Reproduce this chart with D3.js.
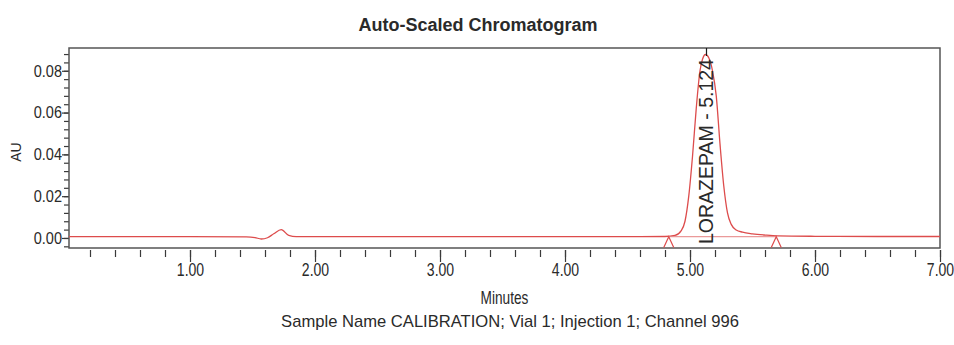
<!DOCTYPE html>
<html>
<head>
<meta charset="utf-8">
<script src="https://cdn.jsdelivr.net/npm/d3@7"></script>
<style>
  body { margin: 0; background: #fff; }
  svg text { font-family: 'Liberation Sans', Arial, sans-serif; fill: #2a2a2a; }
</style>
</head>
<body>
<div id="chart"></div>
<script>
// chromatogram trace (minutes, AU)
var times = [0.032, 0.5, 1.0, 1.45, 1.52, 1.57, 1.62, 1.67, 1.73, 1.79, 1.85, 2.2, 3.0, 4.0, 4.6,
  4.80, 4.88, 4.93, 4.96, 4.99, 5.02, 5.05, 5.08, 5.10, 5.124, 5.15, 5.18, 5.21, 5.24, 5.27,
  5.30, 5.33, 5.37, 5.42, 5.50, 5.60, 5.70, 6.00, 6.50, 7.00];
var absorbance = [0.0006, 0.0006, 0.0006, 0.0005, 0.0002, -0.0005, 0.0001, 0.0020, 0.0040, 0.0012, 0.0006, 0.0006, 0.0006, 0.0006, 0.0006,
  0.0007, 0.0012, 0.0035, 0.0080, 0.0200, 0.0390, 0.0620, 0.0800, 0.0855, 0.0878, 0.0862, 0.0800, 0.0680, 0.0450, 0.0250,
  0.0120, 0.0065, 0.0038, 0.0028, 0.0020, 0.0014, 0.0010, 0.0008, 0.0007, 0.0007];

var peakNames = ['LORAZEPAM'];
var peakTimes = [5.124];
var markerTimes = [4.83, 5.69];   // integration start / end marks

var xMajorTicks = [1, 2, 3, 4, 5, 6, 7];
var yMajorTicks = [0, 0.02, 0.04, 0.06, 0.08];

var title = 'Auto-Scaled Chromatogram';
var xTitle = 'Minutes';
var yTitle = 'AU';
var footer = 'Sample Name CALIBRATION; Vial 1; Injection 1; Channel 996';

var width = 954, height = 345;
var plotLeft = 69, plotRight = 940, plotTop = 48, plotBottom = 248;

var svg = d3.select('#chart').append('svg')
  .attr('width', width)
  .attr('height', height);

var x = d3.scaleLinear().domain([0.032, 7.0]).range([plotLeft, plotRight]);
var y = d3.scaleLinear().domain([-0.0048, 0.0909]).range([plotBottom, plotTop]);

var xMinor = d3.range(2, 71, 2).map(d => d / 10);
var yMinor = d3.range(-1, 23).map(d => d * 0.004);

// x axis: minor then major ticks, hanging a little below the frame
svg.append('g')
  .attr('class', 'x-minor')
  .attr('transform', 'translate(0,' + (plotBottom + 2) + ')')
  .call(d3.axisBottom(x).tickValues(xMinor).tickSize(7).tickFormat(''));
svg.append('g')
  .attr('class', 'x-major')
  .attr('transform', 'translate(0,' + (plotBottom + 2) + ')')
  .call(d3.axisBottom(x).tickValues(xMajorTicks).tickSize(12).tickPadding(1).tickFormat(d3.format('.2f')));

svg.append('g')
  .attr('class', 'y-minor')
  .attr('transform', 'translate(' + plotLeft + ',0)')
  .call(d3.axisLeft(y).tickValues(yMinor).tickSize(5).tickFormat(''));
svg.append('g')
  .attr('class', 'y-major')
  .attr('transform', 'translate(' + plotLeft + ',0)')
  .call(d3.axisLeft(y).tickValues(yMajorTicks).tickSize(7).tickPadding(0).tickFormat(d3.format('.2f')));

svg.selectAll('.domain').remove();
svg.selectAll('.tick line').attr('stroke', '#3a3a3a').attr('stroke-width', 1.2);

// the instrument font is a tall, narrow one: squeeze the labels sideways
var xs = 0.78, ys = 0.88;
svg.selectAll('.x-major text')
  .attr('font-family', "'Liberation Sans', Arial, sans-serif")
  .attr('font-size', '18px')
  .attr('fill', '#2a2a2a')
  .attr('transform', 'scale(' + xs + ',1)');
svg.selectAll('.y-major text')
  .attr('font-family', "'Liberation Sans', Arial, sans-serif")
  .attr('font-size', '16.5px')
  .attr('fill', '#2a2a2a')
  .attr('x', -7 / ys)
  .attr('transform', 'scale(' + ys + ',1)');

// frame
svg.append('rect')
  .attr('x', plotLeft).attr('y', plotTop)
  .attr('width', plotRight - plotLeft).attr('height', plotBottom - plotTop)
  .attr('fill', 'none')
  .attr('stroke', '#555')
  .attr('stroke-width', 1.5);

// trace
var trace = times.map((t, i) => ({ t: t, v: absorbance[i] }));
var line = d3.line()
  .x(d => x(d.t))
  .y(d => y(d.v))
  .curve(d3.curveMonotoneX);

svg.append('path')
  .datum(trace)
  .attr('d', line)
  .attr('fill', 'none')
  .attr('stroke', '#dd4c4c')
  .attr('stroke-width', 1.3);

// integration baseline
svg.append('line')
  .attr('x1', x(markerTimes[0])).attr('x2', x(markerTimes[1]))
  .attr('y1', y(0.0006)).attr('y2', y(0.0006))
  .attr('stroke', '#e58080')
  .attr('stroke-width', 1);

svg.selectAll('.marker')
  .data(markerTimes)
  .enter()
  .append('path')
  .attr('class', 'marker')
  .attr('d', d => 'M' + (x(d) - 5) + ',' + (plotBottom - 0.5) + 'L' + x(d) + ',' + y(0.0006) + 'L' + (x(d) + 5) + ',' + (plotBottom - 0.5))
  .attr('fill', 'none')
  .attr('stroke', '#dd4c4c')
  .attr('stroke-width', 1.2);

// peak label
peakTimes.forEach(function(pt, i) {
  var px = x(pt);
  svg.append('text')
    .attr('transform', 'translate(' + (px + 7) + ',' + (plotBottom - 4) + ') rotate(-90)')
    .attr('font-size', '19.5px')
    .attr('fill', '#1a1a1a')
    .text(peakNames[i] + ' - ' + d3.format('.3f')(pt));
  svg.append('line')
    .attr('x1', px + 1).attr('x2', px + 1)
    .attr('y1', plotTop).attr('y2', plotTop + 8)
    .attr('stroke', '#1a1a1a')
    .attr('stroke-width', 1.2);
});

// titles
svg.append('text')
  .attr('x', 478).attr('y', 31)
  .attr('text-anchor', 'middle')
  .attr('font-size', '18px')
  .attr('font-weight', 'bold')
  .attr('fill', '#1a1a1a')
  .text(title);

var mx = (plotLeft + plotRight) / 2;
svg.append('text')
  .attr('transform', 'translate(' + mx + ',304) scale(0.78,1)')
  .attr('text-anchor', 'middle')
  .attr('font-size', '17.5px')
  .text(xTitle);

svg.append('text')
  .attr('transform', 'translate(21,152) rotate(-90)')
  .attr('text-anchor', 'middle')
  .attr('font-size', '14px')
  .text(yTitle);

svg.append('text')
  .attr('x', 510).attr('y', 327)
  .attr('text-anchor', 'middle')
  .attr('font-size', '16.6px')
  .text(footer);
</script>
</body>
</html>
